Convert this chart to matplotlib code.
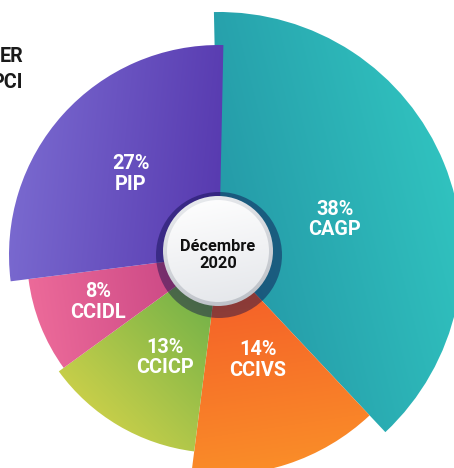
import numpy as np
import matplotlib
matplotlib.use("Agg")
import matplotlib.pyplot as plt
from matplotlib.patches import Wedge, Circle
from matplotlib.colors import to_rgb

# ---- data ----
categories = ["CAGP", "CCIVS", "CCICP", "CCIDL", "PIP"]
shares = [38, 14, 13, 8, 27]
outer_radius = [243, 220, 198, 192, 210]
center_label = "Décembre\n2020"
title_lines = ["ER", "PCI"]

# ---- styles ----
grad_start = ["#2290a2", "#f35628", "#e3d84a", "#ef6d9b", "#7c6dd2"]
grad_end = ["#33cbc4", "#fb9229", "#5fab48", "#c23f80", "#5638ae"]
grad_dir = [(1, 0.25), (0.15, -1), (1, 1), (1, 0.15), (1, -0.1)]
label_radius = [121, 112, 116, 130, 120]
label_angle_nudge = [-4.4, 2.3, 2.6, -0.4, -1.1]

W, H = 454, 468
cx, cy = 219, H - 255

fig = plt.figure(figsize=(W / 100, H / 100), dpi=100)
ax = fig.add_axes([0, 0, 1, 1])
ax.set_xlim(0, W)
ax.set_ylim(0, H)
ax.set_aspect("equal")
ax.axis("off")

FONT = "Roboto"

yy, xx = np.mgrid[0:H:1.0, 0:W:1.0]


def gradient_fill(patch, c0, c1, direction, zorder):
    ax.add_patch(patch)
    patch.set_facecolor("none")
    patch.set_edgecolor("none")
    bb = patch.get_path().get_extents(patch.get_patch_transform())
    d = np.array(direction, float)
    d /= np.linalg.norm(d)
    corners = np.array([[bb.x0, bb.y0], [bb.x1, bb.y0], [bb.x0, bb.y1], [bb.x1, bb.y1]])
    proj = corners @ d
    t = ((xx + 0.5) * d[0] + (yy + 0.5) * d[1] - proj.min()) / (proj.max() - proj.min())
    t = np.clip(t, 0, 1)[..., None]
    img = np.array(to_rgb(c0)) * (1 - t) + np.array(to_rgb(c1)) * t
    im = ax.imshow(img, extent=(0, W, 0, H), origin="lower", zorder=zorder,
                   interpolation="bilinear")
    im.set_clip_path(patch)


# wedges, clockwise from 12 o'clock
total = sum(shares)
start = 90.0
wedges = []
for cat, v in zip(categories, shares):
    span = 360.0 * v / total
    wedges.append((start - span, start))
    start -= span

for i, cat in enumerate(categories):
    t1, t2 = wedges[i]
    if i == 0:
        t2 += 1.2          # first slice tucks slightly under the last one
    if i == len(categories) - 1:
        t1 -= 1.2          # last slice overlaps the first one a little
    w = Wedge((cx, cy), outer_radius[i], t1, t2)
    gradient_fill(w, grad_start[i], grad_end[i], grad_dir[i], zorder=1 + i)

# labels
for i, cat in enumerate(categories):
    t1, t2 = wedges[i]
    mid = np.deg2rad((t1 + t2) / 2 + label_angle_nudge[i])
    x = cx + label_radius[i] * np.cos(mid)
    y = cy + label_radius[i] * np.sin(mid)
    ax.text(x, y, f"{shares[i]}%\n{cat}", color="white", fontsize=14.3,
            fontweight="bold", family=FONT, ha="center", va="center",
            linespacing=1.08, zorder=20)

# central ring
ring = Circle((cx, cy), 63, facecolor="#0c0a4a", alpha=0.45, edgecolor="none", zorder=10)
ax.add_patch(ring)

# white disc with grey rim
ccx, ccy = 218, H - 251
rim = Circle((ccx, ccy), 55, edgecolor="none")
gradient_fill(rim, "#eceef1", "#b9bdc4", (0.3, -1), zorder=11)
inner = Circle((ccx, ccy), 51, edgecolor="none")
gradient_fill(inner, "#ffffff", "#e4e6ea", (0.2, -1), zorder=12)

ax.text(ccx, ccy - 4, center_label, color="#111111", fontsize=11.8,
        fontweight="bold", family=FONT, ha="center", va="center",
        linespacing=1.2, zorder=21)

# clipped title on the left
ax.text(23, H - 56, title_lines[0], color="#1a1a1a", fontsize=14.2, fontweight="bold",
        family=FONT, ha="right", va="center", zorder=21)
ax.text(23, H - 82, title_lines[1], color="#1a1a1a", fontsize=14.2, fontweight="bold",
        family=FONT, ha="right", va="center", zorder=21)

fig.savefig("out.png", dpi=100)
